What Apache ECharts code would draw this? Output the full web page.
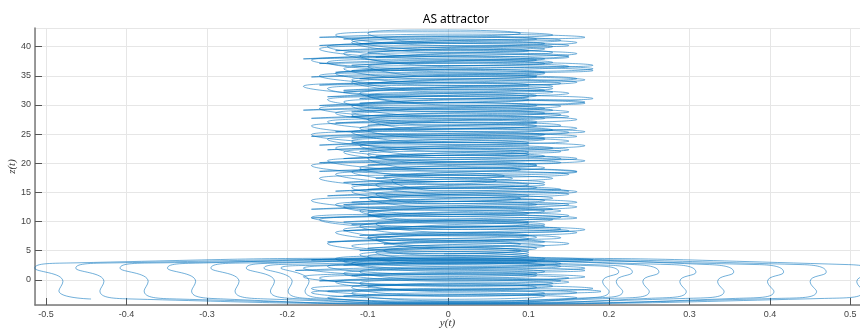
<!DOCTYPE html>
<html>
<head>
<meta charset="utf-8">
<script src="https://cdn.jsdelivr.net/npm/echarts@6/dist/echarts.min.js"></script>
<style>
html,body{margin:0;padding:0;background:#fff;}
#chart{width:860px;height:329px;}
</style>
</head>
<body>
<div id="chart"></div>
<script>
// Tick labels
const xTicks = [-0.5, -0.4, -0.3, -0.2, -0.1, 0, 0.1, 0.2, 0.3, 0.4, 0.5];
const zTicks = [0, 5, 10, 15, 20, 25, 30, 35, 40];

// Wide lower loops (spiralling inwards): turning points of the path, y(t) and z(t)
const wideY = [
  -0.444,-0.484,-0.479,-0.514,-0.464,0,0.498,0.528,0.508,0.516,0.468,0,
  -0.393,-0.433,-0.428,-0.463,-0.413,0,0.440,0.470,0.450,0.458,0.410,0,
  -0.338,-0.378,-0.373,-0.408,-0.358,0,0.387,0.417,0.397,0.405,0.357,0,
  -0.279,-0.319,-0.314,-0.349,-0.299,0,0.325,0.355,0.335,0.343,0.295,0,
  -0.225,-0.265,-0.260,-0.295,-0.245,0,0.278,0.308,0.288,0.296,0.248,0,
  -0.181,-0.221,-0.216,-0.251,-0.201,0,0.232,0.262,0.242,0.250,0.202,0,
  -0.159,-0.199,-0.194,-0.229,-0.179,0,0.199,0.229,0.209,0.217,0.169,0,
  -0.138,-0.178,-0.173,-0.208,-0.158,0,0.182,0.212,0.192,0.200,0.152,0
];
const wideZ = [
  -3.3,-1.9,-0.3,2.0,2.9,3.7,2.6,1.3,-0.3,-2.0,-3.2,-4.1,
  -3.3,-1.9,-0.3,2.0,2.9,3.5,2.6,1.3,-0.3,-2.0,-3.2,-4.0,
  -3.3,-1.9,-0.3,2.0,2.9,3.3,2.6,1.3,-0.3,-2.0,-3.2,-4.2,
  -3.3,-1.9,-0.3,2.0,2.9,3.6,2.6,1.3,-0.3,-2.0,-3.2,-3.9,
  -3.3,-1.9,-0.3,2.0,2.9,3.2,2.6,1.3,-0.3,-2.0,-3.2,-4.1,
  -3.3,-1.9,-0.3,2.0,2.9,3.4,2.6,1.3,-0.3,-2.0,-3.2,-3.8,
  -3.3,-1.9,-0.3,2.0,2.7,3.0,2.5,1.3,-0.3,-2.0,-3.2,-4.0,
  -3.3,-1.9,-0.3,2.0,2.5,2.8,2.4,1.3,-0.3,-2.0,-3.2,-3.7
];

// Flat oscillation loops, in time order: centre z, left and right extremes of y
const loopZ = [
  -3.1,-2.3,-1.5,-0.6,0.3,1.1,2.0,2.8,3.6,4.3,3.4,2.5,1.6,0.7,-0.2,-1.1,-2.0,-2.8,-2.2,-1.3,-0.4,0.5,1.4,2.3,3.2,4.0,4.7,
  5.0,6.2,7.3,8.6,9.6,10.7,11.8,12.9,14.0,15.1,16.3,17.4,18.5,19.6,20.8,21.9,23.0,24.1,25.3,26.4,27.5,28.6,29.8,30.9,32.0,33.2,34.3,35.4,36.6,37.7,38.8,40.0,41.1,42.3,
  41.6,40.5,39.3,38.2,37.1,35.9,34.8,33.7,32.5,31.4,30.3,29.1,28.0,26.9,25.7,24.6,23.5,22.3,21.2,20.1,18.9,17.8,16.7,15.5,14.4,13.3,12.1,11.0,9.9,8.7,7.6,6.5,5.4,
  5.8,7.0,8.1,9.2,10.3,11.4,12.5,13.6,14.7,15.8,17.0,18.1,19.2,20.4,21.5,22.6,23.8,24.9,26.0,27.1,28.3,29.4,30.5,31.6,32.8,33.9,35.0,36.2,37.3,38.4,39.6,40.7,42.0,
  41.3,40.2,39.0,37.9,36.8,35.6,34.5,33.4,32.2,31.1,29.9,28.8,27.7,26.5,25.4,24.3,23.1,22.0,20.8,19.7,18.6,17.4,16.3,15.2,14.0,12.9,11.8,10.6,9.5,8.4,7.2,6.1,5.0
];
const loopL = [
  -0.15,-0.12,-0.17,-0.11,-0.16,-0.13,-0.18,-0.12,-0.14,-0.11,-0.17,-0.13,-0.19,-0.12,-0.16,-0.10,-0.15,-0.13,-0.17,-0.12,-0.14,-0.18,-0.11,-0.15,-0.13,-0.10,-0.09,
  -0.08,-0.15,-0.10,-0.13,-0.09,-0.17,-0.11,-0.14,-0.10,-0.12,-0.09,-0.16,-0.12,-0.17,-0.10,-0.13,-0.11,-0.15,-0.12,-0.17,-0.10,-0.14,-0.12,-0.15,-0.11,-0.18,-0.12,-0.14,-0.10,-0.17,-0.13,-0.15,-0.12,-0.10,
  -0.16,-0.11,-0.14,-0.09,-0.16,-0.12,-0.17,-0.10,-0.13,-0.15,-0.11,-0.18,-0.12,-0.14,-0.10,-0.17,-0.12,-0.15,-0.09,-0.16,-0.11,-0.08,-0.13,-0.10,-0.15,-0.12,-0.17,-0.10,-0.13,-0.09,-0.11,-0.15,-0.10,
  -0.12,-0.09,-0.14,-0.11,-0.16,-0.10,-0.13,-0.17,-0.09,-0.12,-0.07,-0.14,-0.11,-0.15,-0.10,-0.14,-0.12,-0.17,-0.11,-0.15,-0.12,-0.16,-0.13,-0.10,-0.15,-0.12,-0.16,-0.13,-0.15,-0.11,-0.16,-0.12,-0.14,
  -0.13,-0.16,-0.10,-0.18,-0.12,-0.14,-0.11,-0.16,-0.13,-0.11,-0.16,-0.12,-0.17,-0.10,-0.14,-0.12,-0.16,-0.11,-0.13,-0.10,-0.16,-0.09,-0.12,-0.14,-0.11,-0.13,-0.10,-0.17,-0.12,-0.13,-0.10,-0.08,-0.11
];
const loopR = [
  0.16,0.12,0.18,0.13,0.15,0.11,0.17,0.14,0.12,0.10,0.18,0.12,0.17,0.11,0.14,0.13,0.19,0.12,0.16,0.11,0.15,0.17,0.12,0.14,0.11,0.10,0.10,
  0.09,0.15,0.11,0.17,0.10,0.14,0.12,0.15,0.09,0.16,0.10,0.13,0.16,0.11,0.14,0.10,0.17,0.12,0.15,0.11,0.16,0.12,0.14,0.10,0.15,0.13,0.17,0.12,0.15,0.11,0.16,0.13,0.14,0.09,
  0.17,0.12,0.10,0.15,0.12,0.18,0.11,0.14,0.12,0.10,0.17,0.13,0.15,0.11,0.13,0.16,0.10,0.15,0.12,0.14,0.09,0.07,0.12,0.14,0.10,0.16,0.13,0.15,0.10,0.14,0.10,0.12,0.11,
  0.12,0.10,0.16,0.12,0.13,0.10,0.16,0.12,0.15,0.11,0.06,0.15,0.12,0.17,0.10,0.13,0.15,0.12,0.16,0.11,0.14,0.12,0.17,0.11,0.13,0.16,0.11,0.18,0.13,0.15,0.12,0.16,0.13,
  0.11,0.15,0.13,0.12,0.18,0.12,0.16,0.10,0.13,0.18,0.11,0.15,0.12,0.14,0.17,0.12,0.10,0.14,0.16,0.11,0.16,0.08,0.12,0.15,0.13,0.11,0.14,0.16,0.12,0.15,0.14,0.09,0.10
];
const loopHalfHeight = 0.55;

const pts = [];
for (let i = 0; i < wideY.length; i++) pts.push([wideY[i], wideZ[i]]);
for (let i = 0; i < loopZ.length; i++) {
  const mid = (loopL[i] + loopR[i]) / 2;
  pts.push([loopL[i], loopZ[i]]);
  pts.push([mid, loopZ[i] + loopHalfHeight]);
  pts.push([loopR[i], loopZ[i]]);
  pts.push([mid, loopZ[i] - loopHalfHeight]);
}

function onTick(v, list) {
  for (const t of list) if (Math.abs(v - t) < 1e-6) return true;
  return false;
}

const chart = echarts.init(document.getElementById('chart'), null, {renderer: 'canvas'});
chart.setOption({
  animation: false,
  backgroundColor: '#ffffff',
  title: {
    text: 'AS attractor',
    left: 451, top: 9, textAlign: 'center',
    textStyle: {fontFamily: 'Noto Sans', fontSize: 12, fontWeight: 'normal', color: '#000'}
  },
  grid: {left: 35, right: 0, top: 28, bottom: 24, containLabel: false, outerBoundsMode: 'none'},
  xAxis: {
    type: 'value', min: -0.5137, max: 0.512, splitNumber: 10,
    name: 'y(t)', nameLocation: 'middle', nameGap: 13, nameMoveOverlap: false,
    nameTextStyle: {fontFamily: 'Liberation Serif', fontStyle: 'italic', fontSize: 11, color: '#333', verticalAlign: 'top'},
    axisLine: {show: true, onZero: false, lineStyle: {color: '#7a7a7a', width: 1.5}},
    axisTick: {show: true, inside: true, length: 7, lineStyle: {color: '#555', width: 1}},
    axisLabel: {
      fontFamily: 'Liberation Sans', fontSize: 9, color: '#444', margin: 5,
      showMinLabel: false, showMaxLabel: false,
      formatter: function (v) { return onTick(v, xTicks) ? String(Math.round(v * 10) / 10) : ''; }
    },
    splitLine: {show: true, lineStyle: {color: '#e6e6e6', width: 1}}
  },
  yAxis: {
    type: 'value', min: -4.33, max: 43.2, splitNumber: 9,
    name: 'z(t)', nameLocation: 'middle', nameGap: 17, nameRotate: 90, nameMoveOverlap: false,
    nameTextStyle: {fontFamily: 'Liberation Serif', fontStyle: 'italic', fontSize: 11, color: '#333'},
    axisLine: {show: true, onZero: false, lineStyle: {color: '#7a7a7a', width: 1.5}},
    axisTick: {show: true, inside: true, length: 7, lineStyle: {color: '#555', width: 1}},
    axisLabel: {
      fontFamily: 'Liberation Sans', fontSize: 9, color: '#444', margin: 4,
      showMinLabel: false, showMaxLabel: false,
      formatter: function (v) { return onTick(v, zTicks) ? String(Math.round(v)) : ''; }
    },
    splitLine: {show: true, lineStyle: {color: '#e6e6e6', width: 1}}
  },
  series: [{
    type: 'line',
    data: pts,
    smooth: 0.55,
    showSymbol: false,
    symbol: 'none',
    clip: true,
    lineStyle: {color: '#0072BD', width: 0.8, opacity: 0.7}
  }]
});
</script>
</body>
</html>
